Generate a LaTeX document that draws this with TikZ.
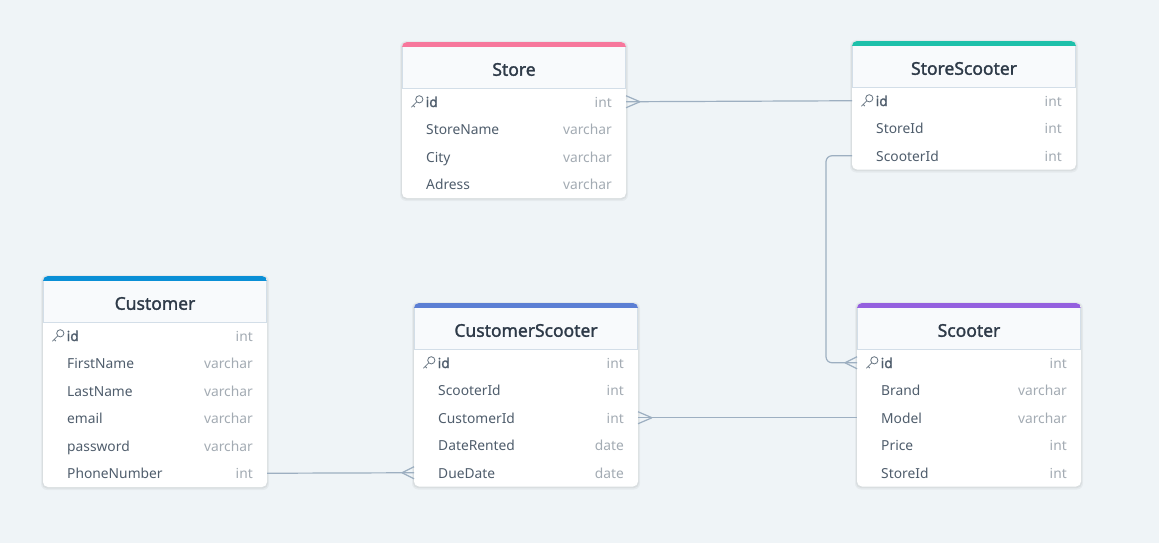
\documentclass[tikz,border=0pt]{standalone}
\usepackage{fontspec}
\setmainfont{Noto Sans}[AutoFakeBold=1.6]
\usetikzlibrary{calc}
\definecolor{bg}{HTML}{EFF4F7}
\definecolor{hdrbg}{HTML}{F8FAFC}
\definecolor{hdrline}{HTML}{D3DEE8}
\definecolor{conncol}{HTML}{9DAFC1}
\definecolor{titlecol}{HTML}{2E3A48}
\definecolor{fieldcol}{HTML}{4F5D6C}
\definecolor{typecol}{HTML}{A3ABB3}
\definecolor{keycol}{HTML}{6B7885}
\definecolor{cStore}{HTML}{F7779C}
\definecolor{cStoreScooter}{HTML}{1EC0AA}
\definecolor{cCustomer}{HTML}{0A8FD6}
\definecolor{cCustomerScooter}{HTML}{5C7FD4}
\definecolor{cScooter}{HTML}{9460DF}
\tikzset{
  titletext/.style={text=titlecol, font=\fontsize{17.5}{20}\selectfont\bfseries, inner sep=0pt},
  fieldtext/.style={anchor=west, text=fieldcol, font=\fontsize{13.8}{16}\selectfont, inner sep=0pt, text height=10pt, text depth=3pt},
  typetext/.style={anchor=east, text=typecol, font=\fontsize{13.8}{16}\selectfont, inner sep=0pt, text height=10pt, text depth=3pt},
  conn/.style={draw=conncol, line width=1.2pt},
  keyline/.style={draw=keycol, line width=0.85pt}
}
\newcommand\erdtable[7]{%
  \pgfmathsetmacro\tH{46+27.5*#6}%
  \fill[black, opacity=0.04, rounded corners=6] (#2-2,#3-1) rectangle (#2+226,#3+\tH+3);
  \fill[black, opacity=0.05, rounded corners=5] (#2-1,#3) rectangle (#2+225,#3+\tH+1.5);
  \fill[white, rounded corners=5] (#2,#3) rectangle (#2+224,#3+\tH);
  \begin{scope}
    \clip[rounded corners=5] (#2,#3) rectangle (#2+224,#3+\tH);
    \fill[hdrbg] (#2,#3+5) rectangle (#2+224,#3+46);
    \fill[#4] (#2,#3) rectangle (#2+224,#3+5);
    \draw[hdrline, line width=0.8pt] (#2+0.4,#3+5) -- (#2+0.4,#3+46) -- (#2+223.6,#3+46) -- (#2+223.6,#3+5);
  \end{scope}
  \node[titletext] (#1) at (#2+112,#3+27.5) {#5};
  \coordinate (#1-L1) at (#2,#3+59.75);
  \coordinate (#1-R1) at (#2+224,#3+59.75);
  \draw[keyline] (#2+17.3,#3+57.3) circle (3.6);
  \draw[keyline] (#2+14.7,#3+59.9) -- (#2+9.4,#3+65.2) (#2+11.2,#3+63.4) -- (#2+12.8,#3+65);
  \node[fieldtext, font=\fontsize{13.8}{16}\selectfont\bfseries] (#1-n1) at (#2+23.5,#3+61.5) {id};
  \node[typetext] (#1-t1) at (#2+210,#3+61.5) {int};
  \foreach \fn/\ft [count=\i from 2] in {#7} {
    \coordinate (#1-L\i) at (#2,#3+32.25+27.5*\i);
    \coordinate (#1-R\i) at (#2+224,#3+32.25+27.5*\i);
    \node[fieldtext] (#1-n\i) at (#2+24,#3+34+27.5*\i) {\fn};
    \node[typetext] (#1-t\i) at (#2+210,#3+34+27.5*\i) {\ft};
  }
}
\newcommand\crow[2]{%
  \draw[conn] ($(#1)+(#2,0)$) -- ($(#1)+(0,-6)$) ($(#1)+(#2,0)$) -- ($(#1)+(0,6)$);
}
\begin{document}
\begin{tikzpicture}[x=1pt,y=-1pt]
  \fill[bg] (0,0) rectangle (1159,543);
  \useasboundingbox (0,0) rectangle (1159,543);

  \erdtable{store}{402}{42}{cStore}{Store}{4}{StoreName/varchar, City/varchar, Adress/varchar}
  \erdtable{ss}{852}{41}{cStoreScooter}{StoreScooter}{3}{StoreId/int, ScooterId/int}
  \erdtable{cust}{43}{276}{cCustomer}{Customer}{6}{FirstName/varchar, LastName/varchar, email/varchar, password/varchar, PhoneNumber/int}
  \erdtable{cs}{414}{303}{cCustomerScooter}{CustomerScooter}{5}{ScooterId/int, CustomerId/int, DateRented/date, DueDate/date}
  \erdtable{sc}{857}{303}{cScooter}{Scooter}{5}{Brand/varchar, Model/varchar, Price/int, StoreId/int}

  \draw[conn] (store-R1) -- (ss-L1);
  \crow{store-R1}{14}
  \draw[conn, rounded corners=6] (ss-L3) -- ++(-26,0) |- (sc-L1);
  \crow{sc-L1}{-12}
  \draw[conn] (cs-R3) -- (sc-L3);
  \crow{cs-R3}{14}
  \draw[conn] (cust-R6) -- (cs-L5);
  \crow{cs-L5}{-12}
\end{tikzpicture}
\end{document}
